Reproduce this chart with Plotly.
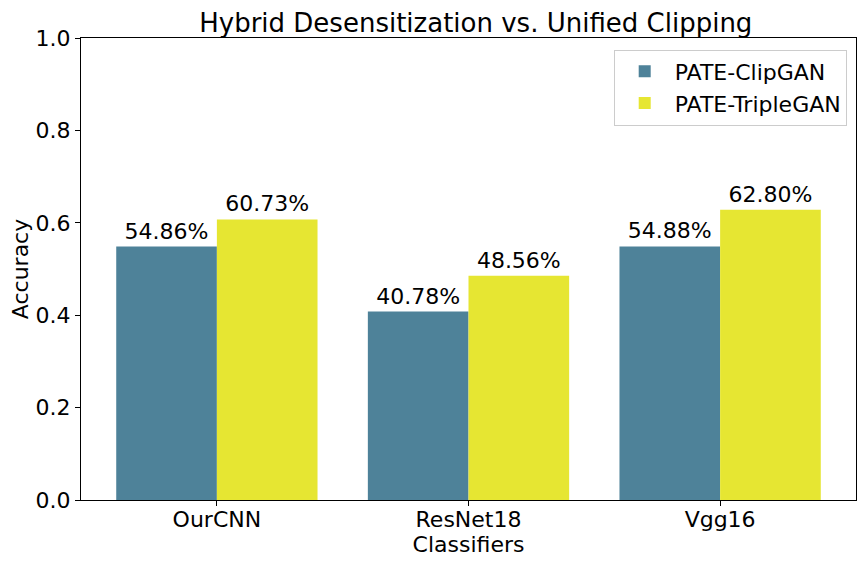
import plotly.graph_objects as go

classifiers = ["OurCNN", "ResNet18", "Vgg16"]
clipgan = [0.5486, 0.4078, 0.5488]
triplegan = [0.6073, 0.4856, 0.6280]
yticks = [0.0, 0.2, 0.4, 0.6, 0.8, 1.0]

font = "DejaVu Sans"
fig = go.Figure()
fig.add_trace(go.Bar(
    x=classifiers, y=clipgan, name="PATE-ClipGAN", marker_color="#4e8299",
    marker_line_width=0,
    text=[f"{v*100:.2f}%" for v in clipgan], textposition="outside",
    textfont=dict(size=22, color="black", family=font), cliponaxis=False))
fig.add_trace(go.Bar(
    x=classifiers, y=triplegan, name="PATE-TripleGAN", marker_color="#e6e632",
    marker_line_width=0,
    text=[f"{v*100:.2f}%" for v in triplegan], textposition="outside",
    textfont=dict(size=22, color="black", family=font), cliponaxis=False))

fig.update_layout(
    width=849, height=549,
    margin=dict(l=73, r=1, t=30, b=57, autoexpand=False),
    paper_bgcolor="white", plot_bgcolor="white",
    font=dict(family=font, size=22, color="black"),
    barmode="group", bargap=0.2, bargroupgap=0,
    title=dict(text="Hybrid Desensitization vs. Unified Clipping", x=0.551, xanchor="center",
               y=1 - 14.5/549, yanchor="middle", font=dict(size=26)),
    legend=dict(x=0.988, y=0.975, xanchor="right", yanchor="top",
                bordercolor="#cccccc", borderwidth=1, bgcolor="white",
                font=dict(size=22), itemwidth=50, tracegroupgap=0),
)
fig.update_xaxes(
    range=[-0.54, 2.54], showline=True, linecolor="black", linewidth=1, mirror=True,
    ticks="outside", ticklen=5, tickcolor="black", showgrid=False, automargin=False,
    ticklabelstandoff=-5,
    title=dict(text="Classifiers", standoff=0, font=dict(size=22)),
)
fig.update_yaxes(
    range=[0, 1], tickvals=yticks, ticktext=[f"{t:.1f}" for t in yticks],
    showline=True, linecolor="black", linewidth=1, mirror=True, automargin=False,
    ticks="outside", ticklen=5, tickcolor="black", showgrid=False, zeroline=False,
    title=dict(text="Accuracy", standoff=10, font=dict(size=22)),
)
fig.write_html("out.html")
